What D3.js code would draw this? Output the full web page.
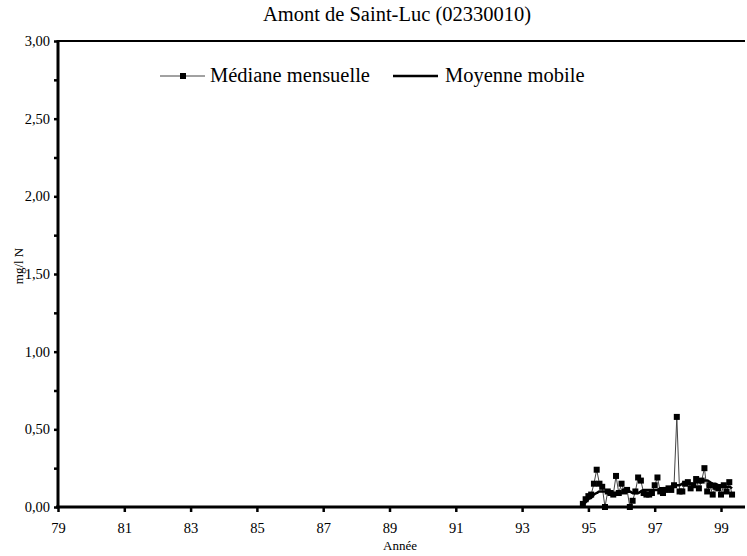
<!DOCTYPE html>
<html>
<head>
<meta charset="utf-8">
<script src="https://cdn.jsdelivr.net/npm/d3@7"></script>
<style>
  body { margin: 0; background: #fff; }
  svg, svg text { font-family: "Liberation Serif", "Times New Roman", Times, "DejaVu Serif", serif; }
</style>
</head>
<body>
<div id="chart"></div>
<script>
// monthly sampling dates (year-month)
const months = [
  "1994-11","1994-12",
  "1995-01","1995-02","1995-03","1995-04","1995-05","1995-06","1995-07","1995-08","1995-09","1995-10","1995-11","1995-12",
  "1996-01","1996-02","1996-03","1996-04","1996-05","1996-06","1996-07","1996-08","1996-09","1996-10","1996-11","1996-12",
  "1997-01","1997-02","1997-03","1997-04","1997-05","1997-06","1997-07","1997-08","1997-09","1997-10","1997-11","1997-12",
  "1998-01","1998-02","1998-03","1998-04","1998-05","1998-06","1998-07","1998-08","1998-09","1998-10","1998-11","1998-12",
  "1999-01","1999-02","1999-03","1999-04","1999-05"
];
// Médiane mensuelle (mg/l N)
const medianValues = [
  0.02, 0.05,
  0.07, 0.08, 0.15, 0.24, 0.15, 0.13, 0.00, 0.10, 0.09, 0.08, 0.20, 0.09,
  0.15, 0.10, 0.11, 0.00, 0.04, 0.10, 0.19, 0.17, 0.09, 0.08, 0.08, 0.09,
  0.14, 0.19, 0.10, 0.09, 0.11, 0.12, 0.11, 0.14, 0.58, 0.10, 0.10, 0.15,
  0.16, 0.12, 0.14, 0.18, 0.12, 0.17, 0.25, 0.10, 0.14, 0.08, 0.13, 0.12,
  0.08, 0.14, 0.10, 0.16, 0.08
];
// Moyenne mobile (mg/l N)
const movingValues = [
  0.02, 0.03,
  0.05, 0.06, 0.08, 0.09, 0.10, 0.10, 0.10, 0.09, 0.09, 0.09, 0.09, 0.09,
  0.09, 0.10, 0.10, 0.10, 0.09, 0.09, 0.09, 0.10, 0.11, 0.11, 0.11, 0.11,
  0.11, 0.11, 0.12, 0.12, 0.12, 0.12, 0.13, 0.13, 0.14, 0.14, 0.15, 0.15,
  0.15, 0.15, 0.15, 0.16, 0.16, 0.16, 0.17, 0.17, 0.16, 0.15, 0.15, 0.14,
  0.14, 0.13, 0.13, 0.13, 0.12
];
const xTicks = [79, 81, 83, 85, 87, 89, 91, 93, 95, 97, 99];
const yTicks = [0, 0.5, 1, 1.5, 2, 2.5, 3];
const yMinorTicks = [0.25, 0.75, 1.25, 1.75, 2.25, 2.75];

const title = "Amont de Saint-Luc (02330010)";
const xTitle = "Année";
const yTitle = "mg/l N";
const seriesNames = ["Médiane mensuelle", "Moyenne mobile"];

const FONT = "'Liberation Serif', 'Times New Roman', Times, 'DejaVu Serif', serif";

const W = 747, H = 556;
const margin = { top: 41, right: 2, bottom: 49, left: 58 };
const width = W - margin.left - margin.right;
const height = H - margin.top - margin.bottom;

// month string -> decimal year (2-digit)
const toYear = m => {
  const [y, mo] = m.split("-").map(Number);
  return (y - 1900) + (mo - 1) / 12;
};
const median = months.map((m, i) => ({ t: toYear(m), v: medianValues[i] }));
const moving = months.map((m, i) => ({ t: toYear(m), v: movingValues[i] }));

const svg = d3.select("#chart").append("svg")
  .attr("width", W).attr("height", H)
  .attr("font-family", FONT);

const g = svg.append("g").attr("transform", `translate(${margin.left},${margin.top})`);

const x = d3.scaleLinear().domain([79, 79 + width / 33.15]).range([0, width]);
const y = d3.scaleLinear().domain([0, 3]).range([height, 0]);

// top frame line
g.append("line")
  .attr("x1", 0).attr("x2", width).attr("y1", 0).attr("y2", 0)
  .attr("stroke", "#000").attr("stroke-width", 2);

// y axis
const yAxis = g.append("g")
  .call(d3.axisLeft(y).tickValues(yTicks).tickSize(4).tickPadding(4)
    .tickFormat(d => d3.format(".2f")(d).replace(".", ",")));
yAxis.select(".domain").remove();
g.append("g")
  .call(d3.axisLeft(y).tickValues(yMinorTicks).tickSize(4).tickFormat(""))
  .select(".domain").remove();
g.append("line")
  .attr("x1", 0).attr("x2", 0).attr("y1", -1).attr("y2", height + 1)
  .attr("stroke", "#000").attr("stroke-width", 3);

// x axis
const xAxis = g.append("g").attr("transform", `translate(0,${height})`)
  .call(d3.axisBottom(x).tickValues(xTicks).tickSize(5).tickPadding(11).tickFormat(d => d));
xAxis.select(".domain").remove();
g.append("line")
  .attr("x1", -2).attr("x2", width).attr("y1", height).attr("y2", height)
  .attr("stroke", "#000").attr("stroke-width", 3);

svg.selectAll(".tick line").attr("stroke", "#000").attr("stroke-width", 2.5);
g.selectAll("g").attr("font-family", FONT).attr("font-size", 14.5);
svg.selectAll(".tick text").attr("fill", "#000");

// series
const line = d3.line().x(d => x(d.t)).y(d => y(d.v));

g.append("path").datum(median)
  .attr("d", line).attr("fill", "none")
  .attr("stroke", "#444").attr("stroke-width", 1);

g.append("path").datum(moving)
  .attr("d", line.curve(d3.curveMonotoneX)).attr("fill", "none")
  .attr("stroke", "#000").attr("stroke-width", 2.5);

g.append("g").selectAll("rect").data(median).enter()
  .append("rect")
  .attr("x", d => x(d.t) - 3).attr("y", d => y(d.v) - 3)
  .attr("width", 6).attr("height", 6).attr("fill", "#000");

// legend
const legend = svg.append("g").attr("transform", "translate(0,76)");
legend.append("line").attr("x1", 160).attr("x2", 205).attr("y1", 0).attr("y2", 0)
  .attr("stroke", "#444").attr("stroke-width", 1);
legend.append("rect").attr("x", 180).attr("y", -3).attr("width", 6).attr("height", 6).attr("fill", "#000");
legend.append("text").attr("x", 210).attr("y", 6).attr("font-size", 20.5).text(seriesNames[0]);
legend.append("line").attr("x1", 393).attr("x2", 438).attr("y1", 0).attr("y2", 0)
  .attr("stroke", "#000").attr("stroke-width", 2.5);
legend.append("text").attr("x", 445).attr("y", 6).attr("font-size", 20.5).text(seriesNames[1]);

// titles
svg.append("text").attr("x", 397).attr("y", 21).attr("text-anchor", "middle")
  .attr("font-size", 20.5).text(title);
svg.append("text").attr("x", 383).attr("y", 550)
  .attr("font-size", 13).text(xTitle);
svg.append("text").attr("transform", "translate(23,266) rotate(-90)")
  .attr("text-anchor", "middle").attr("font-size", 13).text(yTitle);
</script>
</body>
</html>
